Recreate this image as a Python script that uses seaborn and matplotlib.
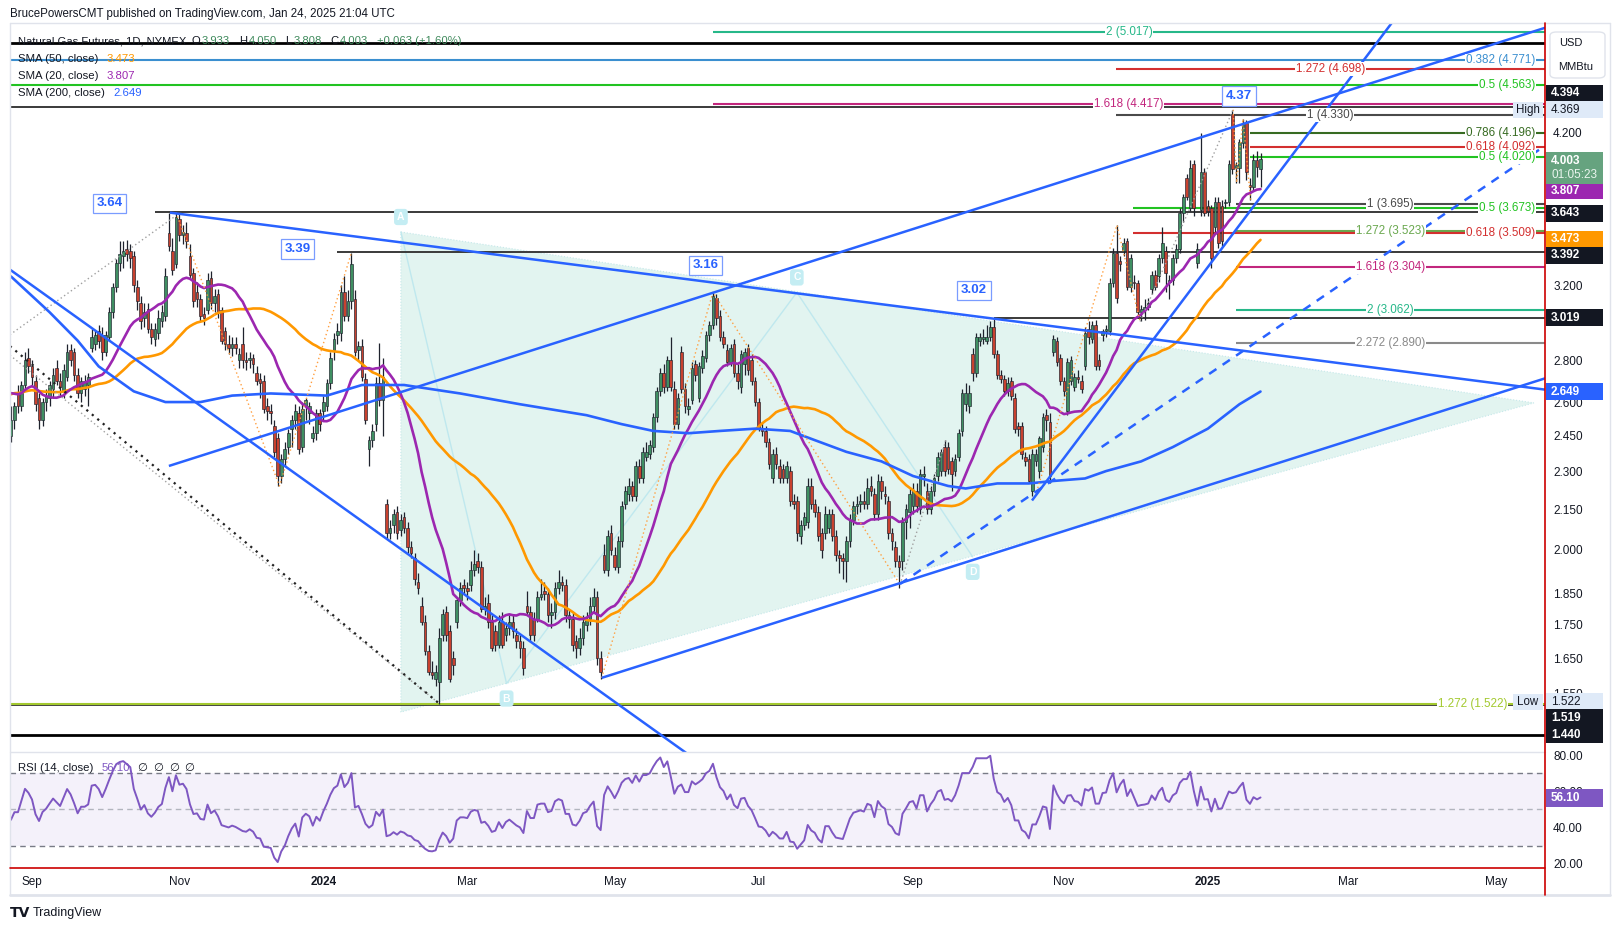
import numpy as np
import pandas as pd
import matplotlib
matplotlib.use("Agg")
import matplotlib.pyplot as plt
from matplotlib.patches import Rectangle, Polygon, FancyBboxPatch
from matplotlib.lines import Line2D
import seaborn as sns

# ------------------------------------------------------------------ data
first_day = "2023-08-24"
last_axis_day = "2025-05-30"
market_holidays = ["2023-09-04", "2023-11-23", "2023-12-25", "2024-01-01", "2024-01-15",
                   "2024-02-19", "2024-03-29", "2024-05-27", "2024-06-19", "2024-07-04",
                   "2024-09-02", "2024-11-28", "2024-12-25", "2025-01-01", "2025-01-20",
                   "2025-02-17", "2025-04-18"]

# closes before the visible window (used only to warm up SMA/RSI)
warmup_closes = [2.28, 2.33, 2.52, 2.62, 2.53, 2.58, 2.60, 2.72, 2.61, 2.69,
                 2.70, 2.68, 2.80, 2.71, 2.66, 2.60, 2.60, 2.57, 2.66, 2.63,
                 2.57, 2.53, 2.60, 2.63, 2.63, 2.68, 2.73, 2.76, 2.72, 2.69,
                 2.64, 2.64, 2.63, 2.57, 2.49, 2.56, 2.58, 2.77, 2.83, 2.91,
                 2.77, 2.77, 2.78, 2.71, 2.57, 2.63, 2.52, 2.56, 2.52, 2.50]

opens = [2.45, 2.52, 2.64, 2.58, 2.68, 2.81, 2.77, 2.70, 2.62, 2.52,
         2.60, 2.62, 2.66, 2.76, 2.70, 2.65, 2.72, 2.85, 2.84, 2.73,
         2.64, 2.66, 2.68, 2.86, 2.88, 2.95, 2.93, 2.84, 2.92, 3.05,
         3.19, 3.33, 3.37, 3.41, 3.40, 3.37, 3.19, 3.10, 3.02, 3.07,
         2.96, 2.91, 2.94, 3.00, 3.03, 3.51, 3.40, 3.32, 3.60, 3.50,
         3.51, 3.37, 3.27, 3.16, 3.12, 3.04, 3.06, 3.24, 3.10, 3.15,
         3.06, 2.95, 2.88, 2.86, 2.88, 2.80, 2.88, 2.80, 2.80, 2.81,
         2.74, 2.71, 2.70, 2.58, 2.56, 2.49, 2.44, 2.28, 2.35, 2.40,
         2.48, 2.52, 2.55, 2.40, 2.58, 2.55, 2.44, 2.46, 2.55, 2.56,
         2.58, 2.69, 2.85, 2.93, 2.94, 3.16, 3.03, 3.11, 3.12, 2.85,
         2.87, 2.71, 2.39, 2.43, 2.50, 2.69, 2.61, 2.17, 2.06, 2.09,
         2.14, 2.07, 2.12, 2.08, 2.01, 1.97, 1.89, 1.81, 1.76, 1.67,
         1.61, 1.59, 1.58, 1.72, 1.79, 1.73, 1.65, 1.76, 1.83, 1.88,
         1.87, 1.88, 1.93, 1.96, 1.94, 1.80, 1.82, 1.76, 1.73, 1.69,
         1.76, 1.72, 1.74, 1.76, 1.72, 1.70, 1.68, 1.81, 1.79, 1.77,
         1.77, 1.84, 1.86, 1.85, 1.78, 1.79, 1.87, 1.89, 1.88, 1.77,
         1.77, 1.70, 1.68, 1.71, 1.75, 1.77, 1.81, 1.84, 1.65, 1.98,
         1.93, 2.06, 1.98, 1.94, 2.03, 2.17, 2.21, 2.24, 2.20, 2.32,
         2.27, 2.36, 2.37, 2.40, 2.53, 2.65, 2.74, 2.67, 2.80, 2.66,
         2.50, 2.84, 2.66, 2.57, 2.61, 2.78, 2.62, 2.76, 2.81, 2.93,
         2.98, 3.13, 3.03, 2.92, 2.85, 2.79, 2.88, 2.74, 2.67, 2.78,
         2.86, 2.80, 2.70, 2.60, 2.48, 2.47, 2.42, 2.27, 2.37, 2.32,
         2.31, 2.27, 2.30, 2.18, 2.18, 2.05, 2.09, 2.10, 2.24, 2.17,
         2.14, 2.06, 2.06, 2.08, 2.13, 2.05, 1.98, 1.97, 1.96, 2.03,
         2.11, 2.16, 2.17, 2.18, 2.17, 2.24, 2.21, 2.13, 2.26, 2.21,
         2.18, 2.06, 2.01, 1.96, 1.96, 2.10, 2.14, 2.16, 2.22, 2.15,
         2.28, 2.22, 2.15, 2.22, 2.28, 2.30, 2.40, 2.40, 2.34, 2.30,
         2.36, 2.47, 2.59, 2.58, 2.83, 2.74, 2.90, 2.91, 2.90, 2.92,
         2.97, 2.83, 2.73, 2.71, 2.65, 2.70, 2.62, 2.49, 2.49, 2.36,
         2.35, 2.22, 2.34, 2.30, 2.40, 2.54, 2.51, 2.84, 2.90, 2.81,
         2.70, 2.56, 2.70, 2.67, 2.72, 2.70, 2.77, 2.96, 2.91, 2.98,
         2.80, 2.93, 2.95, 2.95, 3.21, 3.39, 3.34, 3.40, 3.46, 3.19,
         3.22, 3.21, 3.05, 3.07, 3.08, 3.18, 3.26, 3.25, 3.36, 3.40,
         3.22, 3.23, 3.36, 3.41, 3.64, 3.87, 3.67, 3.97, 3.33, 3.66,
         3.91, 3.68, 3.67, 3.55, 3.71, 3.68, 3.70, 3.71, 4.34, 3.94,
         3.94, 4.12, 4.27, 3.82, 3.81, 4.00, 3.933]

highs = [2.58, 2.60, 2.68, 2.70, 2.84, 2.86, 2.80, 2.73, 2.64, 2.62,
         2.66, 2.70, 2.76, 2.80, 2.74, 2.78, 2.88, 2.88, 2.86, 2.76,
         2.72, 2.73, 2.74, 2.96, 2.95, 2.98, 2.97, 2.95, 3.08, 3.21,
         3.35, 3.46, 3.46, 3.47, 3.44, 3.40, 3.23, 3.14, 3.10, 3.10,
         2.99, 2.99, 3.06, 3.09, 3.30, 3.64, 3.48, 3.64, 3.63, 3.56,
         3.58, 3.44, 3.30, 3.22, 3.15, 3.08, 3.27, 3.28, 3.18, 3.18,
         3.08, 2.97, 2.93, 2.92, 2.92, 2.86, 2.97, 2.84, 2.84, 2.83,
         2.77, 2.74, 2.73, 2.62, 2.59, 2.52, 2.46, 2.37, 2.42, 2.48,
         2.54, 2.59, 2.58, 2.60, 2.62, 2.60, 2.49, 2.57, 2.57, 2.63,
         2.71, 2.84, 2.94, 2.99, 3.20, 3.25, 3.17, 3.39, 3.17, 2.90,
         2.91, 2.74, 2.45, 2.50, 2.72, 2.89, 2.81, 2.19, 2.11, 2.15,
         2.16, 2.13, 2.14, 2.10, 2.03, 1.99, 1.92, 1.84, 1.78, 1.69,
         1.64, 1.63, 1.74, 1.80, 1.81, 1.75, 1.67, 1.84, 1.89, 1.90,
         1.89, 1.96, 2.00, 1.99, 1.96, 1.84, 1.85, 1.78, 1.75, 1.78,
         1.79, 1.76, 1.78, 1.78, 1.74, 1.72, 1.70, 1.86, 1.81, 1.79,
         1.86, 1.90, 1.89, 1.87, 1.82, 1.89, 1.93, 1.91, 1.90, 1.80,
         1.79, 1.72, 1.74, 1.78, 1.79, 1.84, 1.87, 1.86, 1.67, 2.02,
         2.07, 2.09, 2.01, 2.05, 2.18, 2.24, 2.27, 2.26, 2.34, 2.35,
         2.40, 2.42, 2.43, 2.55, 2.67, 2.76, 2.78, 2.82, 2.92, 2.70,
         2.64, 2.87, 2.69, 2.62, 2.79, 2.80, 2.79, 2.85, 2.95, 3.00,
         3.16, 3.15, 3.06, 2.95, 2.88, 2.88, 2.91, 2.78, 2.85, 2.86,
         2.88, 2.83, 2.72, 2.62, 2.51, 2.49, 2.44, 2.39, 2.40, 2.35,
         2.33, 2.34, 2.32, 2.21, 2.20, 2.11, 2.14, 2.27, 2.27, 2.19,
         2.16, 2.08, 2.16, 2.15, 2.15, 2.07, 2.00, 1.99, 2.05, 2.13,
         2.18, 2.20, 2.21, 2.22, 2.27, 2.28, 2.23, 2.29, 2.28, 2.24,
         2.20, 2.08, 2.03, 1.98, 2.12, 2.17, 2.23, 2.25, 2.25, 2.31,
         2.32, 2.25, 2.24, 2.29, 2.38, 2.39, 2.43, 2.42, 2.36, 2.37,
         2.48, 2.66, 2.69, 2.68, 2.86, 2.94, 2.94, 2.96, 2.98, 3.00,
         3.02, 2.85, 2.75, 2.73, 2.72, 2.72, 2.64, 2.51, 2.51, 2.38,
         2.37, 2.39, 2.39, 2.45, 2.55, 2.57, 2.55, 2.93, 2.92, 2.83,
         2.72, 2.81, 2.82, 2.74, 2.75, 2.73, 2.97, 3.00, 3.00, 3.01,
         2.83, 2.96, 2.98, 3.24, 3.42, 3.56, 3.37, 3.48, 3.48, 3.38,
         3.26, 3.23, 3.09, 3.12, 3.13, 3.28, 3.29, 3.38, 3.55, 3.43,
         3.26, 3.38, 3.44, 3.67, 3.76, 3.90, 4.00, 4.00, 3.45, 4.19,
         3.94, 3.72, 3.69, 3.74, 3.74, 3.72, 3.73, 4.00, 4.37, 3.98,
         4.15, 4.30, 4.29, 3.87, 4.04, 4.06, 4.050]

lows = [2.42, 2.48, 2.55, 2.56, 2.66, 2.74, 2.68, 2.56, 2.48, 2.49,
        2.56, 2.58, 2.62, 2.68, 2.63, 2.62, 2.70, 2.77, 2.70, 2.62,
        2.60, 2.63, 2.58, 2.84, 2.85, 2.86, 2.80, 2.82, 2.90, 3.02,
        3.16, 3.28, 3.30, 3.34, 3.30, 3.16, 3.06, 2.96, 2.97, 2.94,
        2.88, 2.87, 2.91, 2.97, 3.00, 3.40, 3.26, 3.30, 3.46, 3.44,
        3.42, 3.24, 3.08, 3.08, 3.00, 2.98, 3.04, 3.07, 3.05, 3.02,
        2.88, 2.85, 2.83, 2.82, 2.83, 2.76, 2.76, 2.75, 2.76, 2.74,
        2.68, 2.62, 2.55, 2.52, 2.50, 2.36, 2.24, 2.25, 2.32, 2.37,
        2.40, 2.48, 2.37, 2.38, 2.52, 2.50, 2.42, 2.43, 2.47, 2.52,
        2.56, 2.66, 2.80, 2.88, 2.90, 3.00, 3.00, 3.07, 2.82, 2.80,
        2.70, 2.50, 2.32, 2.40, 2.47, 2.58, 2.45, 2.04, 2.04, 2.06,
        2.04, 2.05, 2.06, 1.99, 1.97, 1.88, 1.85, 1.75, 1.66, 1.60,
        1.59, 1.57, 1.522, 1.70, 1.70, 1.58, 1.60, 1.74, 1.81, 1.85,
        1.83, 1.86, 1.91, 1.92, 1.79, 1.78, 1.74, 1.67, 1.67, 1.68,
        1.68, 1.70, 1.72, 1.71, 1.68, 1.65, 1.60, 1.78, 1.70, 1.70,
        1.76, 1.83, 1.83, 1.76, 1.74, 1.77, 1.85, 1.86, 1.76, 1.74,
        1.67, 1.65, 1.66, 1.69, 1.73, 1.75, 1.79, 1.63, 1.59, 1.92,
        1.91, 1.98, 1.93, 1.92, 2.01, 2.15, 2.18, 2.18, 2.18, 2.25,
        2.25, 2.34, 2.35, 2.38, 2.51, 2.63, 2.64, 2.65, 2.65, 2.48,
        2.48, 2.64, 2.55, 2.54, 2.59, 2.70, 2.60, 2.74, 2.79, 2.90,
        2.96, 2.98, 2.90, 2.86, 2.77, 2.77, 2.72, 2.66, 2.64, 2.73,
        2.73, 2.68, 2.58, 2.47, 2.45, 2.40, 2.31, 2.25, 2.31, 2.25,
        2.25, 2.25, 2.16, 2.15, 2.03, 2.02, 2.07, 2.08, 2.15, 2.12,
        2.03, 1.97, 2.04, 2.06, 2.03, 1.96, 1.92, 1.90, 1.89, 2.01,
        2.09, 2.13, 2.14, 2.15, 2.15, 2.20, 2.11, 2.11, 2.19, 2.17,
        2.04, 2.00, 1.94, 1.87, 1.93, 2.04, 2.08, 2.13, 2.14, 2.13,
        2.24, 2.13, 2.13, 2.20, 2.26, 2.28, 2.28, 2.29, 2.22, 2.28,
        2.34, 2.45, 2.56, 2.55, 2.70, 2.72, 2.87, 2.88, 2.88, 2.90,
        2.81, 2.71, 2.69, 2.63, 2.63, 2.61, 2.46, 2.45, 2.35, 2.32,
        2.25, 2.20, 2.32, 2.27, 2.38, 2.47, 2.25, 2.82, 2.77, 2.68,
        2.63, 2.54, 2.68, 2.65, 2.69, 2.64, 2.75, 2.88, 2.89, 2.75,
        2.75, 2.90, 2.92, 2.93, 3.19, 3.10, 3.28, 3.37, 3.17, 3.16,
        3.18, 3.02, 3.00, 3.01, 3.06, 3.15, 3.17, 3.22, 3.33, 3.16,
        3.12, 3.20, 3.33, 3.39, 3.58, 3.72, 3.65, 3.62, 3.30, 3.62,
        3.62, 3.62, 3.30, 3.52, 3.42, 3.43, 3.67, 3.68, 3.90, 3.84,
        3.84, 4.08, 3.86, 3.72, 3.79, 3.88, 3.808]

closes = [2.52, 2.58, 2.58, 2.68, 2.80, 2.77, 2.72, 2.59, 2.52, 2.60,
          2.63, 2.68, 2.73, 2.70, 2.67, 2.75, 2.84, 2.80, 2.73, 2.64,
          2.70, 2.70, 2.72, 2.92, 2.93, 2.90, 2.84, 2.93, 3.05, 3.19,
          3.33, 3.38, 3.40, 3.38, 3.36, 3.20, 3.11, 3.00, 3.05, 2.96,
          2.92, 2.96, 3.02, 3.05, 3.25, 3.43, 3.29, 3.61, 3.50, 3.52,
          3.46, 3.26, 3.11, 3.12, 3.03, 3.02, 3.23, 3.10, 3.14, 3.05,
          2.90, 2.88, 2.86, 2.88, 2.86, 2.83, 2.80, 2.79, 2.81, 2.78,
          2.70, 2.69, 2.57, 2.56, 2.55, 2.38, 2.28, 2.35, 2.39, 2.46,
          2.52, 2.56, 2.39, 2.57, 2.61, 2.58, 2.46, 2.55, 2.50, 2.60,
          2.69, 2.81, 2.91, 2.95, 3.16, 3.03, 3.11, 3.32, 2.84, 2.87,
          2.72, 2.52, 2.43, 2.47, 2.69, 2.61, 2.72, 2.06, 2.08, 2.13,
          2.06, 2.11, 2.08, 2.01, 1.99, 1.90, 1.87, 1.76, 1.67, 1.61,
          1.60, 1.61, 1.71, 1.785, 1.72, 1.59, 1.63, 1.83, 1.87, 1.87,
          1.86, 1.93, 1.95, 1.94, 1.80, 1.81, 1.76, 1.68, 1.69, 1.76,
          1.69, 1.74, 1.76, 1.73, 1.70, 1.68, 1.62, 1.79, 1.72, 1.72,
          1.84, 1.85, 1.85, 1.78, 1.79, 1.87, 1.89, 1.88, 1.78, 1.78,
          1.69, 1.68, 1.71, 1.76, 1.77, 1.81, 1.84, 1.65, 1.61, 1.93,
          2.05, 2.00, 1.94, 2.03, 2.16, 2.22, 2.24, 2.20, 2.32, 2.27,
          2.38, 2.38, 2.41, 2.53, 2.65, 2.74, 2.67, 2.80, 2.67, 2.50,
          2.62, 2.66, 2.58, 2.58, 2.76, 2.73, 2.77, 2.82, 2.93, 2.98,
          3.14, 3.02, 2.92, 2.88, 2.79, 2.86, 2.74, 2.70, 2.83, 2.84,
          2.75, 2.70, 2.60, 2.48, 2.47, 2.42, 2.33, 2.37, 2.33, 2.27,
          2.27, 2.32, 2.18, 2.17, 2.06, 2.09, 2.12, 2.24, 2.17, 2.14,
          2.05, 2.00, 2.13, 2.13, 2.05, 1.98, 1.97, 1.96, 2.03, 2.11,
          2.16, 2.17, 2.18, 2.17, 2.23, 2.22, 2.13, 2.26, 2.22, 2.20,
          2.06, 2.03, 1.96, 1.94, 2.10, 2.15, 2.21, 2.22, 2.16, 2.29,
          2.29, 2.15, 2.22, 2.27, 2.36, 2.38, 2.30, 2.31, 2.29, 2.35,
          2.46, 2.64, 2.64, 2.64, 2.74, 2.92, 2.92, 2.92, 2.92, 2.97,
          2.83, 2.73, 2.71, 2.65, 2.69, 2.63, 2.48, 2.48, 2.37, 2.34,
          2.26, 2.37, 2.37, 2.44, 2.53, 2.52, 2.28, 2.91, 2.79, 2.70,
          2.65, 2.79, 2.80, 2.72, 2.71, 2.66, 2.94, 2.92, 2.98, 2.77,
          2.77, 2.95, 2.96, 3.21, 3.39, 3.13, 3.32, 3.45, 3.19, 3.36,
          3.21, 3.05, 3.07, 3.08, 3.10, 3.26, 3.19, 3.36, 3.45, 3.27,
          3.23, 3.36, 3.41, 3.64, 3.74, 3.74, 3.94, 3.67, 3.41, 3.91,
          3.64, 3.65, 3.36, 3.71, 3.45, 3.46, 3.71, 3.97, 3.93, 3.96,
          4.13, 4.27, 3.91, 3.81, 4.00, 3.95, 4.003]

# 200-day SMA (bar number, value)
sma200_bar = [0, 11, 19, 25, 35, 44, 54, 63, 74, 90, 100, 112, 128, 145, 164, 174, 183,
              193, 202, 212, 222, 229, 238, 248, 257, 267, 272, 281, 290, 297, 306, 312,
              322, 331, 341, 350, 356]
sma200_val = [3.25, 3.05, 2.90, 2.77, 2.65, 2.60, 2.60, 2.63, 2.64, 2.63, 2.68, 2.68, 2.64,
              2.59, 2.54, 2.50, 2.47, 2.46, 2.47, 2.48, 2.47, 2.43, 2.38, 2.34, 2.28, 2.24,
              2.23, 2.25, 2.25, 2.26, 2.27, 2.30, 2.34, 2.40, 2.48, 2.59, 2.649]

# legend / header strings
header_text = "BrucePowersCMT published on TradingView.com, Jan 24, 2025 21:04 UTC"
symbol_title = "Natural Gas Futures, 1D, NYMEX"
ohlc_keys = ["O", "H", "L", "C"]
ohlc_vals = ["3.933", "4.050", "3.808", "4.003"]
change_text = "+0.063 (+1.60%)"
sma_names = ["SMA (50, close)", "SMA (20, close)", "SMA (200, close)"]
sma_last = ["3.473", "3.807", "2.649"]
rsi_name = "RSI (14, close)"
rsi_last = "56.10"
rsi_extra = ["\u2205", "\u2205", "\u2205", "\u2205"]
countdown = "01:05:23"

# price-scale tick labels
price_ticks = [4.200, 3.200, 2.800, 2.600, 2.450, 2.300, 2.150, 2.000, 1.850, 1.750, 1.650, 1.550]
rsi_ticks = [20, 40, 60, 80]

# horizontal support / resistance lines (price, first bar)
hline_price = [4.92, 4.394, 3.643, 3.392, 3.019, 1.519, 1.440]
hline_start = [-1, -1, 41, 93, 280, -1, -1]

# fibonacci levels (price, label, first bar, label placement)
fib_price = [5.017, 4.771, 4.698, 4.563, 4.417, 4.330, 4.196, 4.092, 4.020, 3.695,
             3.673, 3.523, 3.509, 3.304, 3.062, 2.890, 1.522]
fib_text = ["2 (5.017)", "0.382 (4.771)", "1.272 (4.698)", "0.5 (4.563)", "1.618 (4.417)",
            "1 (4.330)", "0.786 (4.196)", "0.618 (4.092)", "0.5 (4.020)", "1 (3.695)",
            "0.5 (3.673)", "1.272 (3.523)", "0.618 (3.509)", "1.618 (3.304)", "2 (3.062)",
            "2.272 (2.890)", "1.272 (1.522)"]
fib_start = [200, -1, 314.7, -1, 200, 314.7, 353, 353, 353, 348.9,
             319.7, 348.9, 319.7, 348.9, 348.9, 348.9, -1]
fib_place = ["center", "right", "center", "right", "center", "center", "right", "right", "right",
             "center", "right", "center", "right", "center", "center", "center", "right_low"]

# trend lines (bar0, price0, bar1, price1)
trend_b0 = [-0.3, 45.3, 168.3, 45.0, 290.9]
trend_p0 = [3.29, 3.64, 1.593, 2.321, 2.183]
trend_b1 = [194.0, 437.1, 437.1, 437.1, 398.3]
trend_p1 = [1.384, 2.658, 2.712, 5.055, 5.31]
dashed_b = [253.3, 437.1]
dashed_p = [1.882, 4.10]

# zig-zag swing lines
orange_zz_bar = [[47, 76.5, 97], [168.3, 200, 253.3], [292.2, 315.1, 321.7], [348.2, 349.2, 351, 353.2]]
orange_zz_price = [[3.64, 2.24, 3.39], [1.593, 3.16, 1.88], [2.216, 3.56, 3.00], [4.37, 3.84, 4.30, 3.72]]
gray_zz_bar = [[-0.3, 47], [-0.3, 122], [253.3, 266.6], [321.7, 348.2]]
gray_zz_price = [[2.93, 3.62], [2.826, 1.522], [1.88, 2.44], [3.00, 4.37]]
black_dot_bar = [-0.3, 122]
black_dot_price = [2.872, 1.522]

# triangle pattern
tri_bar = [111.1, 433.9, 111.1]
tri_price = [3.517, 2.596, 1.499]
abcd_letters = ["A", "B", "C", "D"]
abcd_bar = [111.1, 141.2, 223.9, 274.0]
abcd_price = [3.517, 1.577, 3.159, 1.975]

# swing-high callouts
callout_text = ["3.64", "3.39", "3.16", "3.02", "4.37"]
callout_bar = [28.1, 81.6, 197.9, 274.4, 349.8]
callout_price = [3.70, 3.412, 3.314, 3.171, 4.478]

# ------------------------------------------------------------------ style
UP, DOWN, EDGE = "#3f8f62", "#c8412f", "#1e222d"
BLUE, PURPLE, ORANGE, RSI_C = "#2962ff", "#9c27b0", "#ff9800", "#7e57c2"
fib_colors = ["#26b889", "#3b8fd0", "#d32f2f", "#22c322", "#c2267d", "#4a4a4a", "#376b22",
              "#d32f2f", "#22c322", "#4a4a4a", "#22c322", "#6aa84f", "#d32f2f", "#c2267d",
              "#26b889", "#8a8a8a", "#a3c92f"]
hline_lw = [2.0, 1.4, 1.4, 1.4, 1.4, 1.2, 2.0]
hline_col = ["#000000", "#3a3a3a", "#3a3a3a", "#3a3a3a", "#3a3a3a", "#222222", "#000000"]

sns.set_theme(style="white")
plt.rcParams["font.family"] = ["Liberation Sans", "DejaVu Sans"]
plt.rcParams["axes.unicode_minus"] = False

W, H = 1620, 931
fig = plt.figure(figsize=(W / 100, H / 100), dpi=100, facecolor="white")


def fx(p):
    return p / W


def fy(p):
    return 1 - p / H


PL, PR, PT, PM, PB = 10, 1545, 23, 752, 868
ax = fig.add_axes([fx(PL), fy(PM), fx(PR) - fx(PL), fy(PT) - fy(PM)])
rax = fig.add_axes([fx(PL), fy(PB), fx(PR) - fx(PL), fy(PM) - fy(PB)])

cal = pd.bdate_range(first_day, last_axis_day, freq="C", holidays=market_holidays)
n = len(closes)
bars = np.arange(n)
o, h, l, c = (np.array(v, dtype=float) for v in (opens, highs, lows, closes))
X_LO, X_HI = -0.27, 437.05

for a in (ax, rax):
    a.set_xlim(X_LO, X_HI)
    a.set_facecolor("white")
    for s in a.spines.values():
        s.set_visible(False)
    a.grid(False)

ax.set_yscale("log")
ax.set_ylim(1.3964, 5.098)

# triangle pattern
ax.add_patch(Polygon(list(zip(tri_bar, tri_price)), closed=True, facecolor="#e2f4f0",
                     edgecolor="#c5e8ea", linestyle=":", linewidth=0.8, zorder=1))
ax.plot(abcd_bar, abcd_price, color="#bfe8ee", linewidth=1.0, zorder=1.5)

# horizontal lines
for p, b0, lw, col in zip(hline_price, hline_start, hline_lw, hline_col):
    ax.hlines(p, b0, X_HI + 5, color=col, linewidth=lw, zorder=2)

# fib levels
for p, txt, b0, place, col in zip(fib_price, fib_text, fib_start, fib_place, fib_colors):
    ax.hlines(p, b0, X_HI + 5, color=col, linewidth=1.5, zorder=2)
    if place == "center":
        ax.text((max(b0, X_LO) + X_HI) / 2, p, txt, color=col, fontsize=8.4, ha="center",
                va="center", zorder=7,
                bbox=dict(facecolor="white", edgecolor="none", pad=0.6))
    else:
        xoff = -7 if place == "right" else -27
        ax.annotate(txt, xy=(1.0, p), xycoords=("axes fraction", "data"), xytext=(xoff, 0),
                    textcoords="offset points", color=col, fontsize=8.4, ha="right",
                    va="center", zorder=7,
                    bbox=dict(facecolor="white", edgecolor="none", pad=0.6))

# candles
up = c >= o
body_lo = np.minimum(o, c)
body_hi = np.maximum(o, c)
body_hi = np.where(body_hi - body_lo < 0.006, body_lo + 0.006, body_hi)
ax.vlines(bars, l, h, color=EDGE, linewidth=0.9, zorder=3)
for mask, col in ((up, UP), (~up, DOWN)):
    ax.bar(bars[mask], (body_hi - body_lo)[mask], bottom=body_lo[mask], width=0.76,
           color=col, edgecolor=EDGE, linewidth=0.45, zorder=4)

# moving averages
allc = pd.Series(warmup_closes + closes, dtype=float)
k = len(warmup_closes)
sma20 = allc.rolling(20).mean().iloc[k:].to_numpy()
sma50 = allc.rolling(50).mean().iloc[k:].to_numpy()
sns.lineplot(x=bars, y=sma50, ax=ax, color=ORANGE, linewidth=1.9, zorder=5, legend=False)
sns.lineplot(x=bars, y=sma20, ax=ax, color=PURPLE, linewidth=1.9, zorder=5, legend=False)
sns.lineplot(x=sma200_bar, y=sma200_val, ax=ax, color=BLUE, linewidth=1.9, zorder=5, legend=False)

# zig-zags
for bb, pp in zip(orange_zz_bar, orange_zz_price):
    ax.plot(bb, pp, color="#ff9f40", linewidth=1.0, linestyle=(0, (1, 2)), zorder=5.5)
for bb, pp in zip(gray_zz_bar, gray_zz_price):
    ax.plot(bb, pp, color="#a0a0a0", linewidth=1.0, linestyle=(0, (1, 2)), zorder=5.5)
ax.plot(black_dot_bar, black_dot_price, color="#222222", linewidth=1.6, linestyle=(0, (1, 2.2)), zorder=5.5)

# trend lines
for b0, p0, b1, p1 in zip(trend_b0, trend_p0, trend_b1, trend_p1):
    ax.plot([b0, b1], [p0, p1], color=BLUE, linewidth=1.8, zorder=6, solid_capstyle="butt")
ax.plot(dashed_b, dashed_p, color=BLUE, linewidth=1.8, linestyle=(0, (3.5, 3)), zorder=6)

# pattern letters
for let, b, p in zip(abcd_letters, abcd_bar, abcd_price):
    dy = 10.8 if let in ("A", "C") else -10.8
    ax.annotate(let, xy=(b, p), xytext=(0, dy), textcoords="offset points", ha="center",
                va="center", fontsize=7.5, color="white", fontweight="bold", zorder=8,
                bbox=dict(boxstyle="round,pad=0.3", facecolor="#c4edf3", edgecolor="none"))

# callouts
for txt, b, p in zip(callout_text, callout_bar, callout_price):
    ax.text(b, p, txt, ha="center", va="center", fontsize=9.5, fontweight="bold", color=BLUE,
            zorder=9, bbox=dict(boxstyle="square,pad=0.28", facecolor="white",
                                edgecolor="#7a9cff", linewidth=0.9))

ax.set_xlabel("")
ax.set_ylabel("")
ax.yaxis.tick_right()
ax.set_yticks(price_ticks)
ax.set_yticklabels([f"{t:.3f}" for t in price_ticks])
ax.minorticks_off()
ax.tick_params(axis="y", length=0, pad=5.8, labelsize=8.5, colors="#131722")
ax.tick_params(axis="x", length=0, labelbottom=False)

# RSI
d = allc.diff()
gain = d.clip(lower=0)
loss = (-d).clip(lower=0)
ag = gain.ewm(alpha=1 / 14, adjust=False).mean()
al = loss.ewm(alpha=1 / 14, adjust=False).mean()
rsi = (100 - 100 / (1 + ag / al)).iloc[k:].to_numpy()
rax.set_ylim(17.6, 81.7)
rax.axhspan(30, 70, color=RSI_C, alpha=0.08, linewidth=0)
rax.axhline(70, color="#787b86", linewidth=1, linestyle=(0, (4, 3)))
rax.axhline(50, color="#b2b5be", linewidth=1, linestyle=(0, (4, 3)))
rax.axhline(30, color="#787b86", linewidth=1, linestyle=(0, (4, 3)))
sns.lineplot(x=bars, y=rsi, ax=rax, color=RSI_C, linewidth=1.4, legend=False)
rax.set_xlabel("")
rax.set_ylabel("")
rax.yaxis.tick_right()
rax.set_yticks(rsi_ticks)
rax.set_yticklabels([f"{t:.2f}" for t in rsi_ticks])
rax.tick_params(axis="y", length=0, pad=5.8, labelsize=8.5, colors="#131722")

# month ticks
mpos, mlab = [], []
prev = (cal[0].year, cal[0].month)
for i, dte in enumerate(cal):
    key = (dte.year, dte.month)
    if key != prev:
        prev = key
        if dte.month in (1, 3, 5, 7, 9, 11) and i < X_HI:
            mpos.append(i)
            mlab.append(str(dte.year) if dte.month == 1 else dte.strftime("%b"))
rax.set_xticks(mpos)
rax.set_xticklabels(mlab)
rax.tick_params(axis="x", length=0, pad=5.5, labelsize=8.5, colors="#131722")
for t in rax.get_xticklabels():
    if t.get_text().isdigit():
        t.set_fontweight("bold")
ax.set_xticks(mpos)

# ------------------------------------------------------------------ figure-level decorations
def fline(x0, y0, x1, y1, col, lw=1.0, z=15):
    fig.add_artist(Line2D([fx(x0), fx(x1)], [fy(y0), fy(y1)], transform=fig.transFigure,
                          color=col, linewidth=lw, zorder=z))


fline(10, 23, 1610, 23, "#e0e3eb")
fline(10, 23, 10, 895, "#e0e3eb")
fline(1610, 23, 1610, 895, "#e0e3eb")
fline(10, 895, 1610, 895, "#e0e3eb", lw=2)
fline(10, 752, 1545, 752, "#e0e3eb")
fline(10, 868, 1545, 868, "#cc0000", lw=1.2, z=25)
fline(1544.5, 23, 1544.5, 895, "#cc0000", lw=1.2, z=25)


def fig_y_of(axis, val):
    disp = axis.transData.transform((0.0, val))
    return fig.transFigure.inverted().transform(disp)[1]


def axis_box(axis, val, txt, fc, tc, dy=0.0, hpx=17, x0=1546, x1=1603, bold=True):
    yc = fig_y_of(axis, val) - dy / H
    fig.add_artist(Rectangle((fx(x0), yc - hpx / 2 / H), (x1 - x0) / W, hpx / H,
                             transform=fig.transFigure, facecolor=fc, edgecolor="none", zorder=20))
    fig.text(fx(x0 + 5), yc, txt, color=tc, fontsize=8.5, fontweight="bold" if bold else "normal",
             ha="left", va="center", zorder=21)
    return yc


LB = "#dfeaf8"
axis_box(ax, 4.394, "4.394", "#131722", "white", dy=-13.6)
yh = axis_box(ax, 4.369, "4.369", LB, "#131722", bold=False)
axis_box(ax, 3.807, sma_last[1], PURPLE, "white", dy=3.6)
axis_box(ax, 3.643, "3.643", "#131722", "white", dy=1.0)
axis_box(ax, 3.473, sma_last[0], ORANGE, "white")
axis_box(ax, 3.392, "3.392", "#131722", "white", dy=2.8)
axis_box(ax, 3.019, "3.019", "#131722", "white")
axis_box(ax, 2.649, sma_last[2], BLUE, "white")
yl = axis_box(ax, 1.522, "1.522", LB, "#131722", dy=-2.0, bold=False)
axis_box(ax, 1.519, "1.519", "#131722", "white", dy=13.3)
axis_box(ax, 1.440, "1.440", "#131722", "white")
axis_box(rax, 56.10, rsi_last, RSI_C, "white", hpx=18)

# last price box with countdown
ylast = fig_y_of(ax, 4.003)
fig.add_artist(Rectangle((fx(1546), ylast - 24.4 / H), 57 / W, 32 / H, transform=fig.transFigure,
                         facecolor="#66a37f", edgecolor="none", zorder=20))
fig.text(fx(1551), ylast - 1.4 / H, ohlc_vals[3], color="white", fontsize=8.5, fontweight="bold",
         ha="left", va="center", zorder=21)
fig.text(fx(1551), ylast - 16.0 / H, countdown, color="#eaf5ee", fontsize=8.5,
         ha="left", va="center", zorder=21)

# High / Low tags
for yy, t in ((yh, "High"), (yl, "Low")):
    fig.add_artist(Rectangle((fx(1513), yy - 8 / H), 30 / W, 16 / H, transform=fig.transFigure,
                             facecolor=LB, edgecolor="none", zorder=20))
    fig.text(fx(1528), yy, t, color="#131722", fontsize=8.3, ha="center", va="center", zorder=21)

# currency box
fig.add_artist(FancyBboxPatch((fx(1550), fy(78)), 55 / W, 46 / H, boxstyle="round,pad=0,rounding_size=0.004",
                              transform=fig.transFigure, facecolor="white", edgecolor="#e0e3eb",
                              linewidth=1, zorder=20))
fig.text(fx(1559), fy(43), "USD", color="#131722", fontsize=8, ha="left", va="center", zorder=21)
fig.text(fx(1558), fy(67), "MMBtu", color="#131722", fontsize=8, ha="left", va="center", zorder=21)

# header & legends (laid out left to right from measured text widths)
fig.text(fx(10), fy(14.5), header_text, color="#131722", fontsize=8.3, ha="left", va="center")
fig.canvas.draw()
renderer = fig.canvas.get_renderer()


def text_row(x, ypx, parts, size=8.2):
    for txt, col, gap in parts:
        t = fig.text(fx(x), fy(ypx), txt, color=col, fontsize=size, ha="left", va="center", zorder=16)
        bb = t.get_window_extent(renderer)
        x = bb.x1 + gap


TXT = "#131722"
VAL = "#3f8a5c"
row = [(symbol_title, TXT, 5)]
for key, val in zip(ohlc_keys, ohlc_vals):
    row += [(key, TXT, 1.5), (val, VAL, 9)]
row += [(change_text, VAL, 0)]
text_row(18, 41.5, row, size=8.1)
for name, val, col, yy in zip(sma_names, sma_last, [ORANGE, PURPLE, BLUE], [59.3, 76.0, 92.7]):
    text_row(18, yy, [(name, TXT, 8), (val, col, 0)])
rrow = [(rsi_name, TXT, 8), (rsi_last, RSI_C, 7)]
rrow += [(sym, TXT, 6) for sym in rsi_extra]
text_row(18, 768, rrow)

# footer
fig.text(fx(10), fy(913), "TV", color="#131722", fontsize=10, fontweight="heavy", ha="left",
         va="center", family=["DejaVu Sans"])
fig.text(fx(33), fy(913), "TradingView", color="#131722", fontsize=9, ha="left", va="center")

fig.savefig("out.png", dpi=100, facecolor="white")
